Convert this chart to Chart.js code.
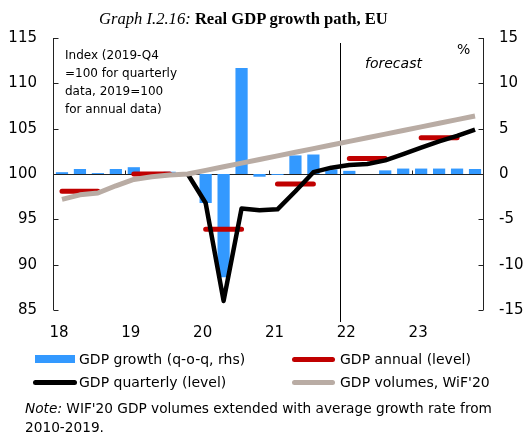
<!DOCTYPE html>
<html>
<head>
<meta charset="utf-8">
<script src="https://cdn.jsdelivr.net/npm/chart.js@4.4.0/dist/chart.umd.min.js"></script>
<style>
  body { margin: 0; background: #fff; }
  #wrap { position: relative; width: 527px; height: 436px; font-family: "DejaVu Sans", sans-serif; color: #000; overflow: hidden; }
  canvas { position: absolute; left: 0; top: 0; }
  .txt { position: absolute; white-space: nowrap; }
  .title { left: 99px; top: 10px; font-family: "Liberation Serif", serif; font-size: 16.6px; line-height: 18px; }
  .note-idx { left: 65px; top: 46px; font-size: 12px; line-height: 18px; }
  .forecast { left: 365px; top: 54px; font-size: 14px; line-height: 18px; font-style: italic; }
  .pct { left: 457px; top: 40px; font-size: 14px; line-height: 18px; }
  .leg { font-size: 14px; line-height: 18px; }
  .swatch { position: absolute; }
  .note { left: 25px; top: 399px; font-size: 13.7px; line-height: 19px; }
</style>
</head>
<body>
<div id="wrap">
  <canvas id="gdpChart" width="527" height="436"></canvas>
  <div class="txt title"><i>Graph I.2.16:</i> <b>Real GDP growth path, EU</b></div>
  <div class="txt note-idx">Index (2019-Q4<br>=100 for quarterly<br>data, 2019=100<br>for annual data)</div>
  <div class="txt forecast">forecast</div>
  <div class="txt pct">%</div>

  <div class="swatch" style="left:35px;top:355px;width:40px;height:8px;background:#3399ff;"></div>
  <div class="txt leg" style="left:79px;top:350px;">GDP growth (q-o-q, rhs)</div>
  <div class="swatch" style="left:292px;top:357px;width:43px;height:5px;border-radius:3px;background:#c00000;"></div>
  <div class="txt leg" style="left:340px;top:350px;">GDP annual (level)</div>
  <div class="swatch" style="left:33px;top:380px;width:44px;height:5px;border-radius:3px;background:#000;"></div>
  <div class="txt leg" style="left:79px;top:373px;">GDP quarterly (level)</div>
  <div class="swatch" style="left:292px;top:380px;width:43px;height:5px;border-radius:3px;background:#b9aca4;"></div>
  <div class="txt leg" style="left:340px;top:373px;">GDP volumes, WiF'20</div>

  <div class="txt note"><i>Note:</i> WIF'20 GDP volumes extended with average growth rate from<br>2010-2019.</div>
</div>

<script>
// quarters 2018Q1 .. 2023Q4
const quarters = [
  "18Q1", "18Q2", "18Q3", "18Q4", "19Q1", "19Q2", "19Q3", "19Q4",
  "20Q1", "20Q2", "20Q3", "20Q4", "21Q1", "21Q2", "21Q3", "21Q4",
  "22Q1", "22Q2", "22Q3", "22Q4", "23Q1", "23Q2", "23Q3", "23Q4"
];
const yearLabels = ["18", "19", "20", "21", "22", "23"];

// q-o-q growth, % (rhs)
const growthQoQ = [
  0.2, 0.55, 0.1, 0.55, 0.75, 0.2, 0.25, 0.05,
  -3.2, -11.4, 11.7, -0.3, -0.1, 2.05, 2.15, 0.5,
  0.35, 0.0, 0.4, 0.6, 0.6, 0.6, 0.6, 0.55
];

// quarterly level, 2019-Q4 = 100
const gdpQuarterly = [
  null, null, null, null, null, null, null, 100.0,
  96.8, 86.0, 96.2, 96.0, 96.1, 98.1, 100.2, 100.7,
  101.0, 101.1, 101.5, 102.2, 102.9, 103.6, 104.2, 104.9
];

// annual level, 2019 = 100 (one per year)
const gdpAnnual = [98.1, 100.0, 93.9, 98.9, 101.7, 104.0];

// WiF'20 volumes
const gdpWif20 = [
  97.2, 97.7, 97.9, 98.7, 99.4, 99.7, 99.9, 100.0,
  100.4, 100.8, 101.2, 101.6, 102.0, 102.4, 102.8, 103.2,
  103.6, 104.0, 104.4, 104.8, 105.2, 105.6, 106.0, 106.4
];

const leftTicks = [85, 90, 95, 100, 105, 110, 115];
const rightTicks = [-15, -10, -5, 0, 5, 10, 15];

// annual values shown as a bar across Q1..Q3 of each year
const annualSeries = [];
gdpAnnual.forEach(v => { annualSeries.push(v, v, v, null); });

const FONT = "'DejaVu Sans', sans-serif";

// axis lines, small ticks, baseline and forecast marker
const axisPlugin = {
  id: "axisLines",
  beforeDatasetsDraw(chart) {
    const { ctx, chartArea: a, scales } = chart;
    const x = scales.x, y = scales.y, y2 = scales.y2;
    const L = Math.round(a.left) + 0.5, R = Math.round(a.right) - 0.5;
    ctx.save();
    ctx.strokeStyle = "#222";
    ctx.lineWidth = 1;
    ctx.beginPath();
    ctx.moveTo(L, a.top); ctx.lineTo(L, a.bottom);
    ctx.moveTo(R, a.top); ctx.lineTo(R, a.bottom);
    leftTicks.forEach(v => {
      const py = Math.round(y.getPixelForValue(v)) + 0.5;
      ctx.moveTo(L, py); ctx.lineTo(L + 5, py);
    });
    rightTicks.forEach(v => {
      const py = Math.round(y2.getPixelForValue(v)) + 0.5;
      ctx.moveTo(R, py); ctx.lineTo(R - 5, py);
    });
    // baseline at 100 / 0
    const by = Math.round(y.getPixelForValue(100)) + 0.5;
    ctx.moveTo(L, by); ctx.lineTo(R, by);
    // year boundaries
    for (let i = 4; i < quarters.length; i += 4) {
      const px = Math.round((x.getPixelForValue(i - 1) + x.getPixelForValue(i)) / 2) + 0.5;
      ctx.moveTo(px, by); ctx.lineTo(px, by - 4);
    }
    ctx.stroke();

    // forecast divider between 21Q4 and 22Q1
    const fx = Math.round((x.getPixelForValue(15) + x.getPixelForValue(16)) / 2) + 0.5;
    ctx.strokeStyle = "#000";
    ctx.beginPath();
    ctx.moveTo(fx, a.top + 5);
    ctx.lineTo(fx, a.bottom + 12);
    ctx.stroke();
    ctx.restore();
  }
};

new Chart(document.getElementById("gdpChart"), {
  data: {
    labels: quarters,
    datasets: [
      {
        type: "line",
        label: "GDP volumes, WiF'20",
        data: gdpWif20,
        yAxisID: "y",
        borderColor: "#b9aca4",
        borderWidth: 5,
        pointRadius: 0,
        borderJoinStyle: "round",
        order: 0
      },
      {
        type: "line",
        label: "GDP quarterly (level)",
        data: gdpQuarterly,
        yAxisID: "y",
        borderColor: "#000",
        borderWidth: 4.5,
        pointRadius: 0,
        borderJoinStyle: "round",
        order: 1
      },
      {
        type: "line",
        label: "GDP annual (level)",
        data: annualSeries,
        yAxisID: "y",
        borderColor: "#c00000",
        borderWidth: 5,
        borderCapStyle: "round",
        pointRadius: 0,
        spanGaps: false,
        order: 2
      },
      {
        type: "bar",
        label: "GDP growth (q-o-q, rhs)",
        data: growthQoQ,
        yAxisID: "y2",
        backgroundColor: "#3399ff",
        barPercentage: 0.68,
        categoryPercentage: 1.0,
        order: 3
      }
    ]
  },
  options: {
    responsive: false,
    animation: false,
    devicePixelRatio: 1,
    layout: { padding: { top: 38, bottom: 91, left: 0, right: 0 } },
    plugins: { legend: { display: false }, tooltip: { enabled: false } },
    scales: {
      x: {
        grid: { display: false, drawTicks: false },
        border: { display: false },
        ticks: {
          autoSkip: false,
          maxRotation: 0,
          padding: 14,
          labelOffset: -3,
          color: "#000",
          font: { family: FONT, size: 15 },
          callback: (v, i) => (i % 4 === 0 ? yearLabels[i / 4] : "")
        },
        afterFit: s => { s.height = 35; }
      },
      y: {
        position: "left",
        min: 85,
        max: 115,
        grid: { display: false, drawTicks: false },
        border: { display: false },
        ticks: { stepSize: 5, padding: 16, color: "#000", font: { family: FONT, size: 15 } },
        afterFit: s => { s.width = 53; }
      },
      y2: {
        position: "right",
        min: -15,
        max: 15,
        grid: { display: false, drawTicks: false },
        border: { display: false },
        ticks: { stepSize: 5, padding: 15, color: "#000", font: { family: FONT, size: 15 } },
        afterFit: s => { s.width = 43; }
      }
    }
  },
  plugins: [axisPlugin]
});
</script>
</body>
</html>
